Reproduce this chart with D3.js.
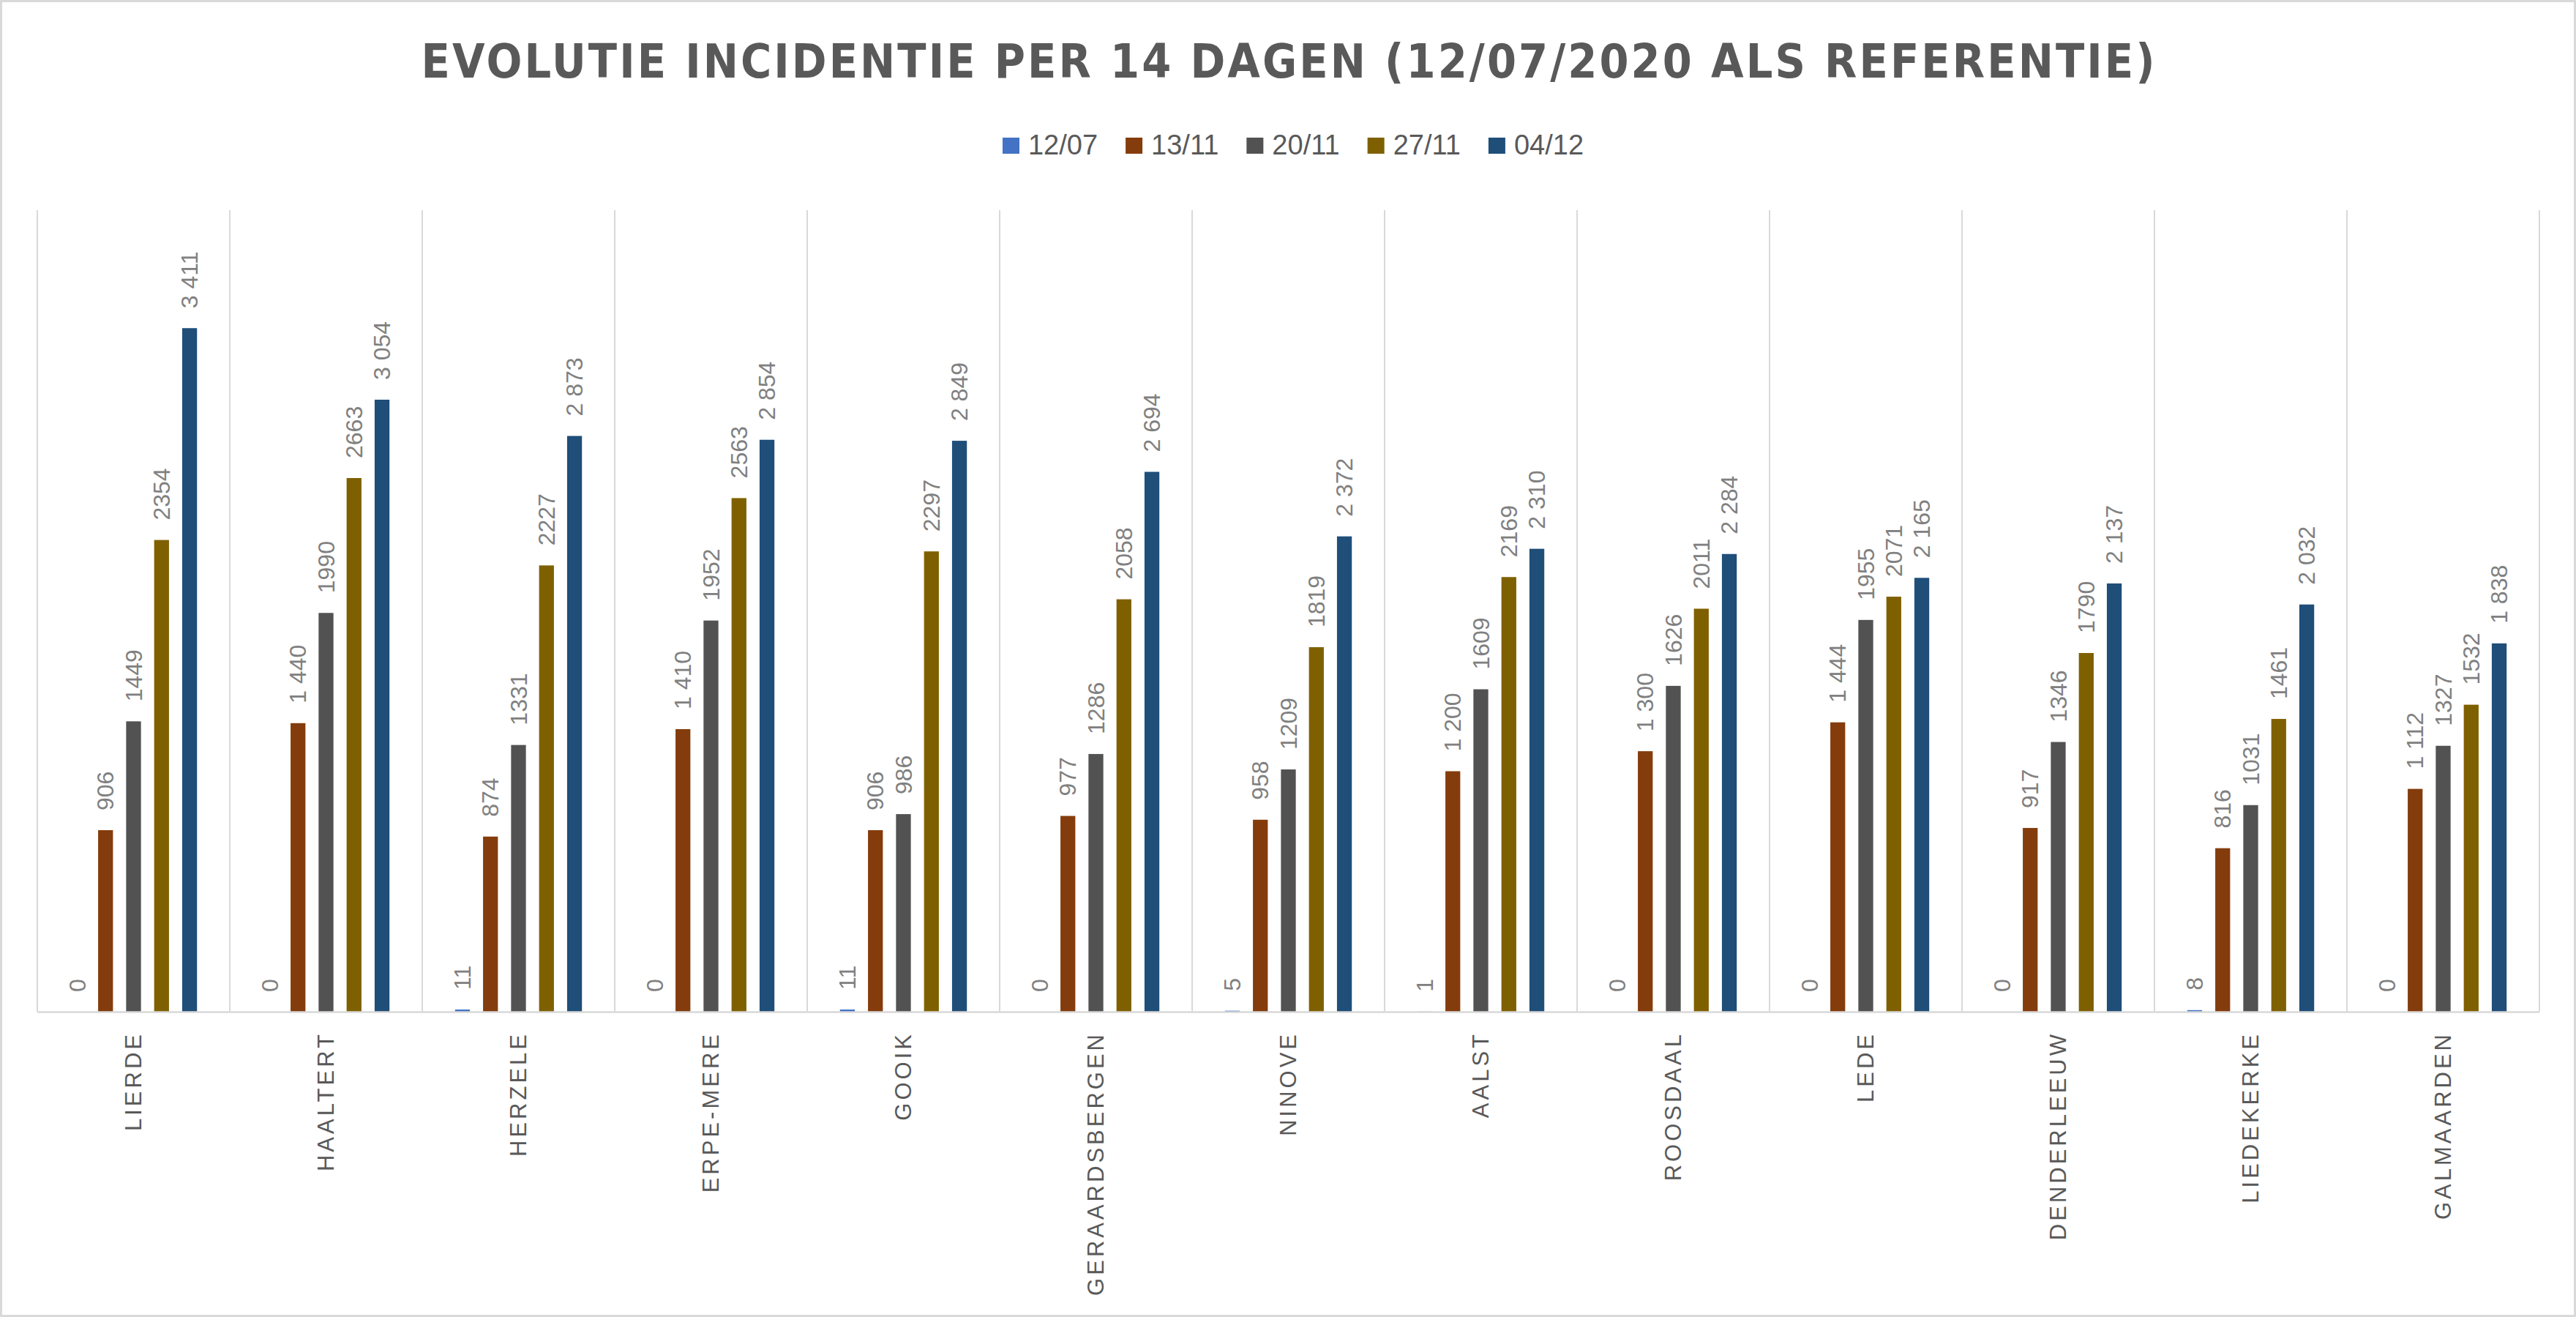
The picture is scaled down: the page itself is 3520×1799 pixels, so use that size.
<!DOCTYPE html>
<html>
<head>
<meta charset="utf-8">
<script src="https://cdn.jsdelivr.net/npm/d3@7.9.0/dist/d3.min.js"></script>
<style>
  body { margin: 0; background: #fff; }
  svg { display: block; }
</style>
</head>
<body>
<svg id="chart" width="3520" height="1799"></svg>
<script>
// data
const categories = ['LIERDE', 'HAALTERT', 'HERZELE', 'ERPE-MERE', 'GOOIK', 'GERAARDSBERGEN',
  'NINOVE', 'AALST', 'ROOSDAAL', 'LEDE', 'DENDERLEEUW', 'LIEDEKERKE', 'GALMAARDEN'];
const series = ['12/07', '13/11', '20/11', '27/11', '04/12'];
const v1207 = [0, 0, 11, 0, 11, 0, 5, 1, 0, 0, 0, 8, 0];
const v1311 = [906, 1440, 874, 1410, 906, 977, 958, 1200, 1300, 1444, 917, 816, 1112];
const v2011 = [1449, 1990, 1331, 1952, 986, 1286, 1209, 1609, 1626, 1955, 1346, 1031, 1327];
const v2711 = [2354, 2663, 2227, 2563, 2297, 2058, 1819, 2169, 2011, 2071, 1790, 1461, 1532];
const v0412 = [3411, 3054, 2873, 2854, 2849, 2694, 2372, 2310, 2284, 2165, 2137, 2032, 1838];
const values = [v1207, v1311, v2011, v2711, v0412];
// labels of these series are written with a space as thousands separator
const spacedSeries = ['13/11', '04/12'];
const yMax = 4000;

const colors = ['#4472C4', '#843C0C', '#525252', '#7F6000', '#1F4E79'];

const W = 3520, H = 1799;
const svg = d3.select('#chart');

const spaced = d3.formatLocale({ decimal: ',', thousands: ' ', grouping: [3] }).format(',');
const plain = d3.format('d');

const x0 = d3.scaleBand().domain(categories).range([51, 3470]).padding(0);
const x1 = d3.scaleBand().domain(series).range([0, x0.bandwidth()])
  .paddingInner(0.47).paddingOuter(1.17);
const y = d3.scaleLinear().domain([0, yMax]).range([1382, 287]);

// outer border
svg.append('rect')
  .attr('x', 1.5).attr('y', 1.5)
  .attr('width', W - 3).attr('height', H - 3)
  .attr('fill', '#fff').attr('stroke', '#d9d9d9').attr('stroke-width', 3);

// title
svg.append('text')
  .attr('x', W / 2).attr('y', 106)
  .attr('text-anchor', 'middle')
  .attr('font-family', '"Liberation Sans Narrow", "DejaVu Sans Condensed", "Open Sans", sans-serif')
  .attr('font-weight', 700)
  .attr('font-size', 64)
  .attr('fill', '#595959')
  .attr('textLength', 2369)
  .attr('lengthAdjust', 'spacing')
  .text('EVOLUTIE INCIDENTIE PER 14 DAGEN (12/07/2020 ALS REFERENTIE)');

// legend
const legend = svg.append('g');
let lx = 0;
series.forEach((s, i) => {
  const g = legend.append('g').attr('transform', `translate(${lx},0)`);
  g.append('rect').attr('x', 0).attr('y', 188).attr('width', 23).attr('height', 22)
    .attr('fill', colors[i]);
  const t = g.append('text').attr('x', 35).attr('y', 211)
    .attr('font-family', '"Liberation Sans", Arial, sans-serif')
    .attr('font-size', 38).attr('fill', '#595959').text(s);
  lx += 35 + t.node().getComputedTextLength() + 38;
});
const legendW = lx - 38;
legend.attr('transform', `translate(${(W - legendW) / 2 + 7},0)`);

// vertical gridlines between categories
const gridX = categories.map(c => x0(c)).concat([x0.range()[1]]);
svg.append('g').selectAll('line').data(gridX).join('line')
  .attr('x1', d => d).attr('x2', d => d)
  .attr('y1', y(yMax)).attr('y2', y(0))
  .attr('stroke', '#d9d9d9').attr('stroke-width', 2);

// bars
const barData = [];
categories.forEach((c, ci) => {
  series.forEach((s, si) => {
    barData.push({ cat: c, ser: s, si, v: values[si][ci] });
  });
});

svg.append('g').selectAll('rect').data(barData).join('rect')
  .attr('x', d => x0(d.cat) + x1(d.ser))
  .attr('y', d => y(d.v))
  .attr('width', x1.bandwidth())
  .attr('height', d => y(0) - y(d.v))
  .attr('fill', d => colors[d.si]);

// x axis line
svg.append('line')
  .attr('x1', x0.range()[0]).attr('x2', x0.range()[1])
  .attr('y1', y(0) + 0.5).attr('y2', y(0) + 0.5)
  .attr('stroke', '#d9d9d9').attr('stroke-width', 2.5);

// data labels
svg.append('g').selectAll('text').data(barData).join('text')
  .attr('transform', d => `translate(${x0(d.cat) + x1(d.ser) + x1.bandwidth() / 2},${y(d.v) - 27}) rotate(-90)`)
  .attr('text-anchor', 'start')
  .attr('dy', '0.35em')
  .attr('font-family', '"Liberation Sans", Arial, sans-serif')
  .attr('font-size', 32)
  .attr('fill', '#808080')
  .text(d => spacedSeries.includes(d.ser) ? spaced(d.v) : plain(d.v));

// category labels
svg.append('g').selectAll('text').data(categories).join('text')
  .attr('transform', d => `translate(${x0(d) + x0.bandwidth() / 2},1409) rotate(-90)`)
  .attr('text-anchor', 'end')
  .attr('dy', '0.35em')
  .attr('font-family', '"Liberation Sans", Arial, sans-serif')
  .attr('font-size', 31)
  .attr('letter-spacing', 4)
  .attr('fill', '#595959')
  .text(d => d);
</script>
</body>
</html>
